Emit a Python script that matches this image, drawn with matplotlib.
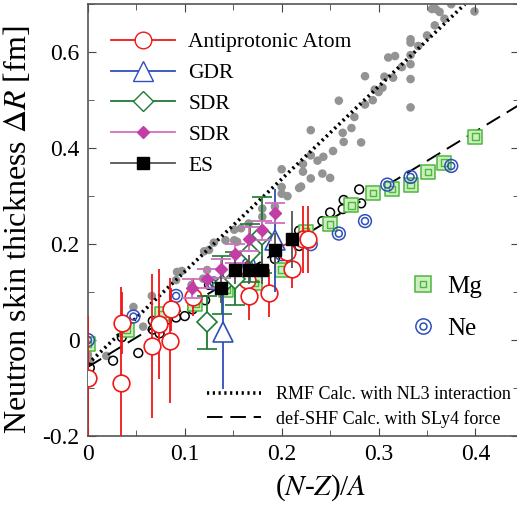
import numpy as np
import matplotlib
matplotlib.use("Agg")
import matplotlib.pyplot as plt
from matplotlib.lines import Line2D
from matplotlib.legend_handler import HandlerTuple
from matplotlib.ticker import MultipleLocator, FuncFormatter

plt.rcParams['font.family'] = ['Liberation Serif', 'DejaVu Serif']
plt.rcParams['mathtext.fontset'] = 'stix'

# RMF (NL3) calculated points
rmf_x = [0.002, 0.002, 0.0, 0.019, 0.035, 0.047, 0.057, 0.066, 0.091, 0.092, 0.097, 0.107, 0.111,
         0.119, 0.123, 0.125, 0.12, 0.13, 0.142, 0.151, 0.151, 0.154, 0.158, 0.166, 0.176, 0.18,
         0.18, 0.193, 0.2, 0.2, 0.2, 0.206, 0.218, 0.22, 0.222, 0.222, 0.23, 0.23, 0.23, 0.237,
         0.243, 0.242, 0.25, 0.253, 0.259, 0.263, 0.264, 0.272, 0.275, 0.282, 0.286, 0.286, 0.294,
         0.296, 0.3, 0.304, 0.306, 0.315, 0.31, 0.317, 0.324, 0.333, 0.333, 0.333, 0.333, 0.333,
         0.333, 0.341, 0.35, 0.358, 0.355, 0.359, 0.363, 0.368, 0.375, 0.399]
rmf_y = [-0.042, -0.079, -0.03, -0.033, 0.038, 0.069, 0.028, 0.092, 0.125, 0.142, 0.144, 0.115, 0.094,
         0.128, 0.146, 0.188, 0.185, 0.203, 0.208, 0.23, 0.208, 0.205, 0.233, 0.243, 0.217, 0.257,
         0.274, 0.278, 0.356, 0.319, 0.305, 0.30, 0.317, 0.32, 0.367, 0.351, 0.4375, 0.385, 0.337, 0.374,
         0.382, 0.347, 0.338, 0.394, 0.499, 0.432, 0.413, 0.442, 0.465, 0.412, 0.55, 0.491, 0.5,
         0.522, 0.517, 0.526, 0.549, 0.547, 0.589, 0.592, 0.569, 0.627, 0.62, 0.594, 0.575, 0.544,
         0.485, 0.613, 0.635, 0.656, 0.69, 0.69, 0.684, 0.67, 0.70, 0.685]

# def-SHF (SLy4) calculated points
shf_x = [0.002, 0.026, 0.035, 0.052, 0.067, 0.067, 0.074, 0.082, 0.091, 0.1, 0.108, 0.121, 0.125,
         0.152, 0.166, 0.193, 0.206, 0.218, 0.218, 0.242, 0.25, 0.263, 0.264, 0.282, 0.28]
shf_y = [-0.058, -0.043, 0.006, -0.027, 0.040, 0.022, 0.014, 0.043, 0.047, 0.05, 0.064, 0.083, 0.115,
         0.121, 0.142, 0.169, 0.182, 0.196, 0.228, 0.248, 0.266, 0.273, 0.292, 0.285, 0.314]

mg_x = [0.0, 0.04, 0.077, 0.111, 0.143, 0.172, 0.2, 0.225, 0.25, 0.272, 0.294, 0.314, 0.333, 0.351, 0.368, 0.4]
mg_y = [-0.008, 0.022, 0.054, 0.076, 0.104, 0.119, 0.147, 0.226, 0.241, 0.281, 0.307, 0.315, 0.323, 0.35, 0.37, 0.424]

ne_x = [0.0, 0.047, 0.091, 0.13, 0.166, 0.2, 0.23, 0.259, 0.286, 0.309, 0.333, 0.375]
ne_y = [0.0, 0.049, 0.092, 0.118, 0.158, 0.179, 0.2, 0.222, 0.248, 0.324, 0.34, 0.363]

# experiments
pbar_x = [0.0, 0.034, 0.035, 0.066, 0.073, 0.085, 0.086, 0.108, 0.164, 0.166, 0.187, 0.205, 0.211, 0.222, 0.227]
pbar_y = [-0.08, -0.09, 0.036, -0.012, 0.033, -0.001, 0.064, 0.09, 0.125, 0.092, 0.099, 0.184, 0.149, 0.21, 0.21]
pbar_e = [0.13, 0.2, 0.065, 0.15, 0.115, 0.13, 0.045, 0.04, 0.04, 0.05, 0.05, 0.04, 0.04, 0.07, 0.07]

gdr_x = [0.139, 0.193]
gdr_y = [0.017, 0.208]
gdr_e = [0.12, 0.107]

sdr1_x = [0.123, 0.138, 0.152, 0.167, 0.18]
sdr1_y = [0.037, 0.115, 0.128, 0.182, 0.219]
sdr1_e = [0.055, 0.06, 0.055, 0.06, 0.08]

sdr2_x = [0.107, 0.123, 0.137, 0.152, 0.166, 0.18, 0.193]
sdr2_y = [0.108, 0.128, 0.149, 0.18, 0.21, 0.229, 0.265]
sdr2_e = [0.02, 0.02, 0.02, 0.02, 0.025, 0.02, 0.02]

es_x = [0.137, 0.152, 0.166, 0.18, 0.193, 0.211]
es_y = [0.108, 0.147, 0.147, 0.146, 0.188, 0.21]
es_e = [0.03, 0.03, 0.03, 0.03, 0.035, 0.06]

# fitted trend lines (end points)
rmf_line_x = [0.0, 0.389]
rmf_line_y = [-0.05, 0.70]
shf_line_x = [0.0, 0.445]
shf_line_y = [-0.056, 0.49]

red = '#f01818'
blue = '#2f4fb8'
green = '#1e7a34'
magenta = '#c23ea6'
mg_edge = '#4cb83c'
mg_face = '#cdefc0'

fig = plt.figure(figsize=(5.17, 5.05), dpi=100)
ax = fig.add_axes([0.170, 0.1366, 0.834, 0.855])

ax.scatter(rmf_x, rmf_y, s=38, color='#939393', edgecolors='none', zorder=1)
ax.plot(rmf_line_x, rmf_line_y, color='black', lw=2.6, ls=(0, (0.6, 1.0)), zorder=2)
ax.plot(shf_line_x, shf_line_y, color='black', lw=1.4, ls=(0, (8, 4)), zorder=2)
ax.scatter(shf_x, shf_y, s=40, facecolors='none', edgecolors='black', linewidths=1.1, zorder=2)

ax.scatter(mg_x, mg_y, s=90, marker='s', facecolors=mg_face, edgecolors=mg_edge, linewidths=1.1, zorder=3)
ax.scatter(mg_x, mg_y, s=22, marker='s', facecolors='none', edgecolors=mg_edge, linewidths=1.0, zorder=3)
ax.scatter(ne_x, ne_y, s=85, facecolors='none', edgecolors=blue, linewidths=1.1, zorder=3)
ax.scatter(ne_x, ne_y, s=25, facecolors='none', edgecolors=blue, linewidths=1.1, zorder=3)

ax.errorbar(pbar_x, pbar_y, yerr=pbar_e, fmt='o', ms=12, mfc='white', mec=red, mew=1.2,
            ecolor=red, elinewidth=1.3, capsize=0, zorder=4)
ax.errorbar(sdr1_x, sdr1_y, yerr=sdr1_e, fmt='D', ms=10, mfc='white', mec=green, mew=1.2,
            ecolor=green, elinewidth=1.3, capsize=7, capthick=1.3, zorder=5)
ax.errorbar(gdr_x, gdr_y, yerr=gdr_e, fmt='^', ms=15, mfc='white', mec=blue, mew=1.2,
            ecolor=blue, elinewidth=1.3, capsize=0, zorder=5)
ax.errorbar(sdr2_x, sdr2_y, yerr=sdr2_e, fmt='D', ms=6, mfc=magenta, mec=magenta,
            ecolor='#d070c0', elinewidth=1.3, capsize=7, capthick=1.3, zorder=6)
ax.errorbar(es_x, es_y, yerr=es_e, fmt='s', ms=9, mfc='black', mec='black',
            ecolor='#555555', elinewidth=1.3, capsize=0, zorder=6)

ax.set_xlim(0, 0.445)
ax.set_ylim(-0.2, 0.7)
ax.xaxis.set_major_locator(MultipleLocator(0.1))
ax.xaxis.set_minor_locator(MultipleLocator(0.05))
ax.yaxis.set_major_locator(MultipleLocator(0.2))
ax.yaxis.set_minor_locator(MultipleLocator(0.1))
fmt = FuncFormatter(lambda v, p: '0' if abs(v) < 1e-9 else ('%.1f' % v))
ax.xaxis.set_major_formatter(fmt)
ax.yaxis.set_major_formatter(fmt)
ax.tick_params(which='both', direction='in', top=True, right=True, labelsize=17, color='#444444')
ax.tick_params(which='major', length=6, pad=6)
ax.tick_params(which='minor', length=4)
for side in ['left', 'bottom', 'top']:
    ax.spines[side].set_color('#555555')
    ax.spines[side].set_linewidth(1.2)
ax.spines['right'].set_visible(False)

ax.set_xlabel(r'($\it{N}$-$\it{Z}$)/$\it{A}$', fontsize=21)
ax.xaxis.set_label_coords(0.54, -0.085)
ax.set_ylabel(r'Neutron skin thickness $\it{\Delta R}$ [fm]', fontsize=23)
ax.yaxis.set_label_coords(-0.128, 0.477)

h_exp = [
    Line2D([], [], color=red, marker='o', ms=12, mfc='white', mec=red, lw=1.3),
    Line2D([], [], color=blue, marker='^', ms=15, mfc='white', mec=blue, lw=1.3),
    Line2D([], [], color=green, marker='D', ms=10, mfc='white', mec=green, lw=1.3),
    Line2D([], [], color='#d070c0', marker='D', ms=6, mfc=magenta, mec=magenta, lw=1.3),
    Line2D([], [], color='#555555', marker='s', ms=9, mfc='black', mec='black', lw=1.3),
]
leg1 = ax.legend(h_exp, ['Antiprotonic Atom', 'GDR', 'SDR', 'SDR', 'ES'], loc='upper left',
                 bbox_to_anchor=(0.008, 0.98), frameon=False, fontsize=15.5, handlelength=3.0,
                 labelspacing=0.5, handletextpad=0.6)
ax.add_artist(leg1)

h_mg = (Line2D([], [], ls='none', marker='s', ms=11, mfc=mg_face, mec=mg_edge, mew=1.1),
        Line2D([], [], ls='none', marker='s', ms=5, mfc='none', mec=mg_edge, mew=1.0))
h_ne = (Line2D([], [], ls='none', marker='o', ms=11, mfc='none', mec=blue, mew=1.1),
        Line2D([], [], ls='none', marker='o', ms=5, mfc='none', mec=blue, mew=1.1))
leg2 = ax.legend([h_mg, h_ne], ['Mg', 'Ne'], loc='upper left', bbox_to_anchor=(0.695, 0.425),
                 frameon=False, fontsize=18, handler_map={tuple: HandlerTuple(ndivide=None, pad=-1.0)},
                 handlelength=1.0, labelspacing=0.8, handletextpad=0.5)
ax.add_artist(leg2)

h_calc = [Line2D([], [], color='black', lw=2.6, ls=(0, (0.6, 1.0))),
          Line2D([], [], color='black', lw=1.4, ls=(0, (8, 4)))]
ax.legend(h_calc, ['RMF Calc. with NL3 interaction', 'def-SHF Calc. with SLy4 force'],
          loc='lower right', bbox_to_anchor=(1.018, -0.018), frameon=False, fontsize=13,
          handlelength=3.0, labelspacing=0.35, handletextpad=0.8)

fig.savefig('out.png', dpi=100)
